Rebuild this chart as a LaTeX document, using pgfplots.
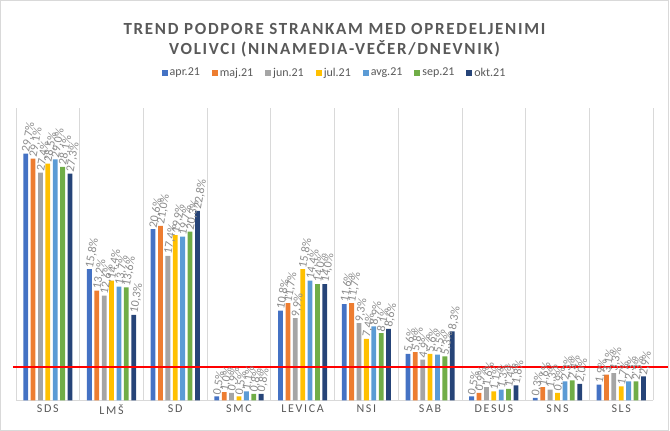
\documentclass[border=0pt]{standalone}
\usepackage{fontspec}
\setmainfont{Carlito}
\newfontfamily\spaced[LetterSpace=14]{Carlito}
\newfontfamily\titlefont[LetterSpace=10]{Carlito}
\usepackage{pgfplots}
\usepackage{pgfplotstable}
\pgfplotsset{compat=1.18}

\definecolor{capr}{HTML}{4472C4}
\definecolor{cmaj}{HTML}{ED7D31}
\definecolor{cjun}{HTML}{A5A5A5}
\definecolor{cjul}{HTML}{FFC000}
\definecolor{cavg}{HTML}{5B9BD5}
\definecolor{csep}{HTML}{70AD47}
\definecolor{cokt}{HTML}{264478}
\definecolor{txtgray}{HTML}{595959}
\definecolor{lblgray}{HTML}{8C8C8C}
\definecolor{gridgray}{HTML}{D9D9D9}

% podpora po strankah, v %
\pgfplotstableread{
party  apr   maj   jun   jul   avg   sep   okt
SDS    29.7  29.1  27.4  28.5  29.0  28.1  27.3
LMS    15.8  13.2  12.6  14.4  13.7  13.6  10.3
SD     20.6  21.0  17.4  19.9  19.7  20.3  22.8
SMC    0.5   1.0   0.9   0.5   1.1   0.8   0.8
LEVICA 10.8  11.7  9.9   15.8  14.4  14.0  14.0
NSI    11.6  11.7  9.3   7.4   8.9   8.1   8.6
SAB    5.6   5.8   4.9   5.6   5.5   5.3   8.3
DESUS  0.5   0.9   1.6   1.1   1.3   1.4   1.8
SNS    0.3   1.6   1.3   0.9   2.3   2.4   2.0
SLS    1.9   3.1   3.3   1.7   2.3   2.3   2.9
}\polldata

\begin{document}
\begin{tikzpicture}
\begin{axis}[
   name=ax,
   scale only axis,
   width=638bp, height=293bp,
   ybar=2.6bp, bar width=4.8bp,
   xmin=-0.5, xmax=9.5,
   ymin=0, ymax=35.2,
   clip=false,
   axis x line*=bottom,
   axis y line=none,
   x axis line style={-, draw=gridgray, line width=0.75bp},
   xtick={0,...,9},
   xticklabels={SDS,LMŠ,SD,SMC,LEVICA,NSI,SAB,DESUS,SNS,SLS},
   xticklabel style={font=\spaced\fontsize{12bp}{14bp}\selectfont, text=txtgray, yshift=-1bp},
   major tick length=0pt,
   minor xtick={-0.5,0.5,...,9.5},
   minor tick length=0pt,
   xminorgrids,
   minor x grid style={draw=gridgray, line width=0.75bp},
   ytick=\empty,
   nodes near coords={\pgfmathprintnumber[assume math mode=true,fixed,fixed zerofill,precision=1,use comma]{\pgfplotspointmeta}\%},
   nodes near coords style={rotate=80, anchor=west, inner sep=1.5bp,
      font=\fontsize{12bp}{13bp}\selectfont, text=lblgray},
   legend columns=-1,
   legend style={at={(axis description cs:0.5,1.12)}, anchor=center, draw=none,
      font=\fontsize{12bp}{14bp}\selectfont, text=txtgray,
      /tikz/every even column/.append style={column sep=10bp}},
   legend image code/.code={\fill[#1] (0bp,-3bp) rectangle (6bp,3bp);},
]
\addplot[fill=capr, draw=none] table[x expr=\coordindex, y=apr] {\polldata};
\addplot[fill=cmaj, draw=none] table[x expr=\coordindex, y=maj] {\polldata};
\addplot[fill=cjun, draw=none] table[x expr=\coordindex, y=jun] {\polldata};
\addplot[fill=cjul, draw=none] table[x expr=\coordindex, y=jul] {\polldata};
\addplot[fill=cavg, draw=none] table[x expr=\coordindex, y=avg] {\polldata};
\addplot[fill=csep, draw=none] table[x expr=\coordindex, y=sep] {\polldata};
\addplot[fill=cokt, draw=none] table[x expr=\coordindex, y=okt] {\polldata};
\legend{apr.21,maj.21,jun.21,jul.21,avg.21,sep.21,okt.21}
% parlamentarni prag
\draw[red, line width=2bp] (axis cs:-0.547,4) -- (axis cs:9.75,4);
\node[font=\titlefont\bfseries\fontsize{17bp}{20bp}\selectfont, text=txtgray, align=center]
   at (axis description cs:0.5,1.232)
   {TREND PODPORE STRANKAM MED OPREDELJENIMI\\VOLIVCI (NINAMEDIA-VEČER/DNEVNIK)};
\end{axis}
\draw[gridgray, line width=0.75bp] (-15.6bp,-29.6bp) rectangle (653.6bp,400.6bp);
\useasboundingbox (-16bp,-30bp) rectangle (654bp,401bp);
\end{tikzpicture}
\end{document}
